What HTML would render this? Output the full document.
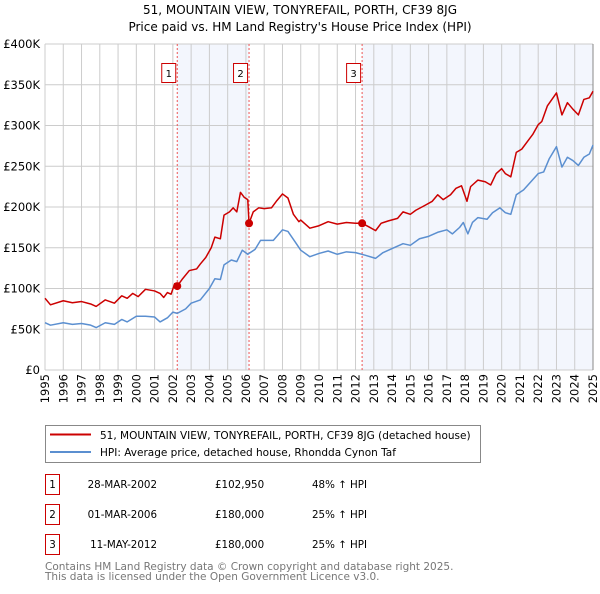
<!DOCTYPE html>
<html><head><meta charset="utf-8"><style>
body{margin:0;background:#fff;width:600px;height:590px;overflow:hidden;font-family:"DejaVu Sans","Liberation Sans",sans-serif}
svg text{font-family:"DejaVu Sans","Liberation Sans",sans-serif}
</style></head><body>
<svg id="c" width="600" height="590" xmlns="http://www.w3.org/2000/svg">
<text x="300" y="14" text-anchor="middle" font-size="12">51, MOUNTAIN VIEW, TONYREFAIL, PORTH, CF39 8JG</text>
<text x="300" y="31" text-anchor="middle" font-size="12">Price paid vs. HM Land Registry's House Price Index (HPI)</text>
<g id="plot"></g>
<g>
<rect x="45.5" y="425.5" width="435" height="37" fill="#fff" stroke="#888"/>
<line x1="50" y1="434.5" x2="91" y2="434.5" stroke="#cc0000" stroke-width="2"/>
<text x="100" y="439" font-size="10.5">51, MOUNTAIN VIEW, TONYREFAIL, PORTH, CF39 8JG (detached house)</text>
<line x1="50" y1="452" x2="91" y2="452" stroke="#5b8fd0" stroke-width="2"/>
<text x="100" y="456" font-size="10.5">HPI: Average price, detached house, Rhondda Cynon Taf</text>
</g>
<g id="table" font-size="10.3"></g>
<text x="45" y="570" font-size="10.5" fill="#777">Contains HM Land Registry data © Crown copyright and database right 2025.</text>
<text x="45" y="580" font-size="10.5" fill="#777">This data is licensed under the Open Government Licence v3.0.</text>
</svg>
<script>
const yTicks=[0,50000,100000,150000,200000,250000,300000,350000,400000];
const yTickLabels=["£0","£50K","£100K","£150K","£200K","£250K","£300K","£350K","£400K"];
const xYears=[1995,1996,1997,1998,1999,2000,2001,2002,2003,2004,2005,2006,2007,2008,2009,2010,2011,2012,2013,2014,2015,2016,2017,2018,2019,2020,2021,2022,2023,2024,2025];
const saleDates=[2002.24,2006.17,2012.36];
const salePrices=[102950,180000,180000];
const saleLabels=["1","2","3"];
const saleDateText=["28-MAR-2002","01-MAR-2006","11-MAY-2012"];
const salePriceText=["£102,950","£180,000","£180,000"];
const salePctText=["48% ↑ HPI","25% ↑ HPI","25% ↑ HPI"];
const redT=[1995,1995.3,1996,1996.5,1997,1997.5,1997.8,1998.3,1998.8,1999.2,1999.5,1999.8,2000.1,2000.5,2001,2001.3,2001.5,2001.7,2001.9,2002.1,2002.24,2002.5,2002.9,2003.3,2003.5,2003.8,2004.1,2004.3,2004.6,2004.8,2005.1,2005.3,2005.5,2005.7,2005.9,2006.1,2006.17,2006.4,2006.7,2007,2007.4,2007.7,2008,2008.3,2008.6,2008.9,2009.0,2009.5,2010,2010.5,2011,2011.5,2012,2012.36,2012.7,2013.1,2013.4,2013.8,2014.3,2014.6,2015,2015.3,2015.8,2016.2,2016.5,2016.8,2017.2,2017.5,2017.8,2018.1,2018.3,2018.7,2019.1,2019.4,2019.7,2020,2020.2,2020.5,2020.8,2021.1,2021.5,2021.7,2022,2022.2,2022.5,2023,2023.3,2023.6,2023.9,2024.2,2024.5,2024.8,2025];
const redV=[88,80,85,82.5,84,81,78,86,82,91,88,94,90,99,97,94,89,95,93,106,102.95,111,122,124,130,138,150,163,161,190,194,199,194,218,212,209,180,194,199,198,199,208,216,211,191,182,184,174,177,182,179,181,180,180,176,171,180,183,186,194,191,196,202,207,215,209,215,223,226,207,225,233,231,227,241,247,241,237,267,271,283,289,301,305,324,340,313,328,320,313,332,334,342];
const blueT=[1995,1995.3,1996,1996.5,1997,1997.5,1997.8,1998.3,1998.8,1999.2,1999.5,2000,2000.5,2001,2001.3,2001.7,2002,2002.24,2002.7,2003,2003.5,2004,2004.3,2004.6,2004.8,2005.2,2005.5,2005.8,2006.1,2006.5,2006.8,2007.5,2008,2008.3,2008.7,2009,2009.5,2010,2010.5,2011,2011.5,2012,2012.5,2013.1,2013.5,2014,2014.6,2015,2015.5,2016,2016.5,2017,2017.3,2017.7,2017.9,2018.15,2018.4,2018.7,2019.2,2019.5,2019.9,2020.2,2020.5,2020.8,2021.2,2021.6,2022,2022.3,2022.6,2023,2023.3,2023.6,2023.9,2024.2,2024.5,2024.8,2025];
const blueV=[58,55,58,56,57,55,52,58,56,62,59,66,66,65,59,64,71,69.5,75,82,86,100,112,111,129,135,133,147,142,148,159,159,172,170,157,147,139,143,146,142,145,144,141,137,144,149,155,153,161,164,169,172,167,175,181,167,181,187,185,193,199,193,191,215,221,231,241,243,259,274,249,261,257,251,261,265,276];

const NS="http://www.w3.org/2000/svg";
const L=45,R=593,T=44,B=370;
const xs=t=>L+(t-1995)/30*(R-L);
const ys=v=>B-v/400000*(B-T);
const plot=document.getElementById('plot');
function mk(tag,attrs,parent){const e=document.createElementNS(NS,tag);for(const k in attrs)e.setAttribute(k,attrs[k]);(parent||plot).appendChild(e);return e;}
mk('rect',{x:L,y:T,width:R-L,height:B-T,fill:'#fff'});
const sh1=mk('rect',{x:xs(saleDates[0]),y:T,width:xs(saleDates[1])-xs(saleDates[0]),height:B-T,fill:'#f3f6fd'});


const sh2=mk('rect',{x:xs(saleDates[2]),y:T,width:R-xs(saleDates[2]),height:B-T,fill:'#f3f6fd'});


xYears.forEach(y=>{mk('line',{x1:xs(y),x2:xs(y),y1:T,y2:B,stroke:'#ccc','stroke-width':1});
 const t=mk('text',{x:0,y:0,'font-size':11.5,'text-anchor':'end',transform:`translate(${xs(y)+4},${B+4}) rotate(-90)`});t.textContent=y;
 
 });
yTicks.forEach((v,i)=>{mk('line',{x1:L,x2:R,y1:ys(v),y2:ys(v),stroke:'#ccc','stroke-width':1});
 const t=mk('text',{x:L-5,y:ys(v)+4,'font-size':11.5,'text-anchor':'end'});t.textContent=yTickLabels[i];
 
 });
mk('line',{x1:R,x2:R,y1:T,y2:B,stroke:'#888','stroke-width':1});
saleDates.forEach((d,i)=>{const l=mk('line',{x1:xs(d),x2:xs(d),y1:T,y2:B,stroke:'#e55','stroke-width':1,'stroke-dasharray':'2,2'});
 
 
 const g=mk('g',{});
 
 
 mk('rect',{x:xs(d)-15.5,y:63.5,width:14,height:19,fill:'#fff',stroke:'#c00'},g);
 const t=mk('text',{x:xs(d)-8.5,y:77,'font-size':10,'text-anchor':'middle'},g);t.textContent=saleLabels[i];});
function pts(T2,V){return T2.map((t,i)=>xs(t)+','+ys(V[i]*1000)).join(' ');}
const bl=mk('polyline',{points:pts(blueT,blueV),fill:'none',stroke:'#5b8fd0','stroke-width':1.5,'stroke-linejoin':'round'});


const rl=mk('polyline',{points:pts(redT,redV),fill:'none',stroke:'#cc0000','stroke-width':1.5,'stroke-linejoin':'round'});


saleDates.forEach((d,i)=>{const c=mk('circle',{cx:xs(d),cy:ys(salePrices[i]),r:4,fill:'#cc0000'});
 
 });
const tb=document.getElementById('table');
saleLabels.forEach((s,i)=>{const cy=483+i*30;
 const g=mk('g',{},tb);
 
 
 mk('rect',{x:45.5,y:cy-8.5,width:14,height:20,fill:'#fff',stroke:'#c00'},g);
 let t=mk('text',{x:52.5,y:cy+5,'text-anchor':'middle'},g);t.textContent=s;
 t=mk('text',{x:157,y:cy+5,'text-anchor':'end'},g);t.textContent=saleDateText[i];
 t=mk('text',{x:215,y:cy+5},g);t.textContent=salePriceText[i];
 t=mk('text',{x:312,y:cy+5},g);t.textContent=salePctText[i];});
</script>
</body></html>
